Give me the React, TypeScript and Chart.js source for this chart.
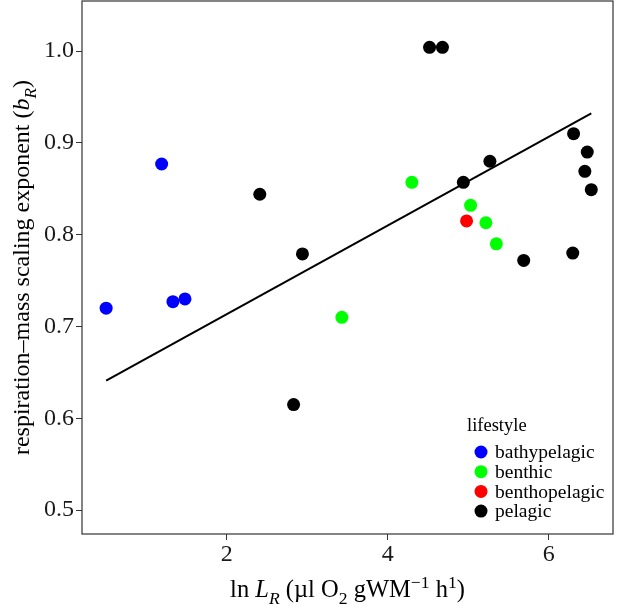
import React, { useEffect, useRef } from "react";
import { Chart, registerables } from "chart.js";

Chart.register(...registerables);

// ---- data ----
const bathyX = [0.5, 1.19, 1.33, 1.48];
const bathyY = [0.72, 0.877, 0.727, 0.73];

const benthicX = [3.43, 4.3, 5.03, 5.22, 5.35];
const benthicY = [0.71, 0.857, 0.832, 0.813, 0.79];

const benthoX = [4.98];
const benthoY = [0.815];

const pelagicX = [2.41, 2.83, 2.94, 4.52, 4.68, 4.94, 5.27, 5.69, 6.3, 6.31, 6.45, 6.48, 6.53];
const pelagicY = [0.844, 0.615, 0.779, 1.004, 1.004, 0.857, 0.88, 0.772, 0.78, 0.91, 0.869, 0.89, 0.849];

const fitX = [0.5, 6.53];
const fitY = [0.641, 0.932];

const xTicks = [2, 4, 6];
const yTicks = [0.5, 0.6, 0.7, 0.8, 0.9, 1.0];

const groups = ["bathypelagic", "benthic", "benthopelagic", "pelagic"];
const groupColors = ["#0000FF", "#00FF00", "#FF0000", "#000000"];
const legendTitle = "lifestyle";

const FONT = '"Liberation Serif", "DejaVu Serif", serif';

const zip = (xs: number[], ys: number[]) => xs.map((x, i) => ({ x, y: ys[i] }));

type Seg = { t: string; it?: boolean; sub?: boolean; sup?: boolean };

const xTitle: Seg[] = [
  { t: "ln " },
  { t: "L", it: true },
  { t: "R", it: true, sub: true },
  { t: " (\u00b5l O" },
  { t: "2", sub: true },
  { t: " gWM" },
  { t: "\u22121", sup: true },
  { t: " h" },
  { t: "1", sup: true },
  { t: ")" },
];

const yTitle: Seg[] = [
  { t: "respiration\u2013mass scaling exponent (" },
  { t: "b", it: true },
  { t: "R", it: true, sub: true },
  { t: ")" },
];

function segFont(s: Seg, size: number) {
  const sz = s.sub || s.sup ? size * 0.72 : size;
  return `${s.it ? "italic " : ""}${sz}px ${FONT}`;
}

function drawRich(ctx: CanvasRenderingContext2D, segs: Seg[], cx: number, y: number, size: number) {
  let total = 0;
  const widths = segs.map((s) => {
    ctx.font = segFont(s, size);
    const w = ctx.measureText(s.t).width;
    total += w;
    return w;
  });
  let x = cx - total / 2;
  ctx.textAlign = "left";
  ctx.textBaseline = "alphabetic";
  segs.forEach((s, i) => {
    ctx.font = segFont(s, size);
    const dy = s.sub ? size * 0.28 : s.sup ? -size * 0.38 : 0;
    ctx.fillText(s.t, x, y + dy);
    x += widths[i];
  });
}

const decorPlugin = {
  id: "decor",
  afterDraw(chart: any) {
    const { ctx, chartArea } = chart;
    const { left, right, top, bottom } = chartArea;
    ctx.save();
    // panel frame
    ctx.strokeStyle = "#333333";
    ctx.lineWidth = 1.2;
    ctx.strokeRect(left, top, right - left, bottom - top);

    // axis titles
    ctx.fillStyle = "#000000";
    drawRich(ctx, xTitle, (left + right) / 2, 597, 24.5);
    ctx.save();
    ctx.translate(29, (top + bottom) / 2);
    ctx.rotate(-Math.PI / 2);
    drawRich(ctx, yTitle, 0, 0, 24);
    ctx.restore();

    // legend inside panel
    const lx = right - 146;
    ctx.font = `18.5px ${FONT}`;
    ctx.textAlign = "left";
    ctx.textBaseline = "middle";
    ctx.fillStyle = "#000000";
    ctx.fillText(legendTitle, lx, bottom - 108);
    groups.forEach((g, i) => {
      const cy = bottom - 82 + i * 19.7;
      ctx.beginPath();
      ctx.fillStyle = groupColors[i];
      ctx.arc(lx + 14, cy, 6.5, 0, Math.PI * 2);
      ctx.fill();
      ctx.fillStyle = "#000000";
      ctx.font = `19.5px ${FONT}`;
      ctx.fillText(g, lx + 28, cy + 1);
    });
    ctx.restore();
  },
};

const zeroPad = (s: any) => {
  s.paddingTop = 0;
  s.paddingBottom = 0;
  s.paddingLeft = 0;
  s.paddingRight = 0;
};

export default function App() {
  const ref = useRef<HTMLCanvasElement | null>(null);

  useEffect(() => {
    if (!ref.current) return;
    const series = [
      zip(bathyX, bathyY),
      zip(benthicX, benthicY),
      zip(benthoX, benthoY),
      zip(pelagicX, pelagicY),
    ];
    const pointSets = groups.map((g, i) => ({
      type: "scatter" as const,
      label: g,
      data: series[i],
      backgroundColor: groupColors[i],
      borderWidth: 0,
      pointRadius: 6.5,
      pointHoverRadius: 6.5,
      order: 0,
    }));
    const chart = new Chart(ref.current, {
      type: "scatter",
      data: {
        datasets: [
          {
            type: "line" as const,
            label: "fit",
            data: zip(fitX, fitY),
            borderColor: "#000000",
            borderWidth: 2,
            pointRadius: 0,
            showLine: true,
            fill: false,
            order: 1,
          },
          ...pointSets,
        ] as any,
      },
      options: {
        animation: false,
        responsive: false,
        layout: { autoPadding: false, padding: { left: 0, right: 4, top: 1, bottom: 0 } },
        plugins: { legend: { display: false }, tooltip: { enabled: false } },
        scales: {
          x: {
            type: "linear",
            min: 0.2,
            max: 6.8,
            afterFit: (s: any) => {
              s.height = 72;
              zeroPad(s);
            },
            afterBuildTicks: (s: any) => {
              s.ticks = xTicks.map((v) => ({ value: v }));
            },
            grid: { display: true, drawOnChartArea: false, drawTicks: true, tickLength: 6, color: "#333333" },
            border: { display: false },
            ticks: {
              color: "#1a1a1a",
              font: { family: FONT, size: 24 },
              padding: 0,
              maxRotation: 0,
              callback: (v: any) => String(v),
            },
          },
          y: {
            type: "linear",
            min: 0.474,
            max: 1.0545,
            afterFit: (s: any) => {
              s.width = 82;
              zeroPad(s);
            },
            afterBuildTicks: (s: any) => {
              s.ticks = yTicks.map((v) => ({ value: v }));
            },
            grid: { display: true, drawOnChartArea: false, drawTicks: true, tickLength: 6, color: "#333333" },
            border: { display: false },
            ticks: {
              color: "#1a1a1a",
              font: { family: FONT, size: 24 },
              padding: 2,
              callback: (v: any) => Number(v).toFixed(1),
            },
          },
        },
      },
      plugins: [decorPlugin],
    });
    return () => chart.destroy();
  }, []);

  return (
    <div style={{ position: "fixed", left: 0, top: 0, width: 617, height: 606, background: "#ffffff" }}>
      <canvas ref={ref} width={617} height={606} style={{ display: "block" }} />
    </div>
  );
}
